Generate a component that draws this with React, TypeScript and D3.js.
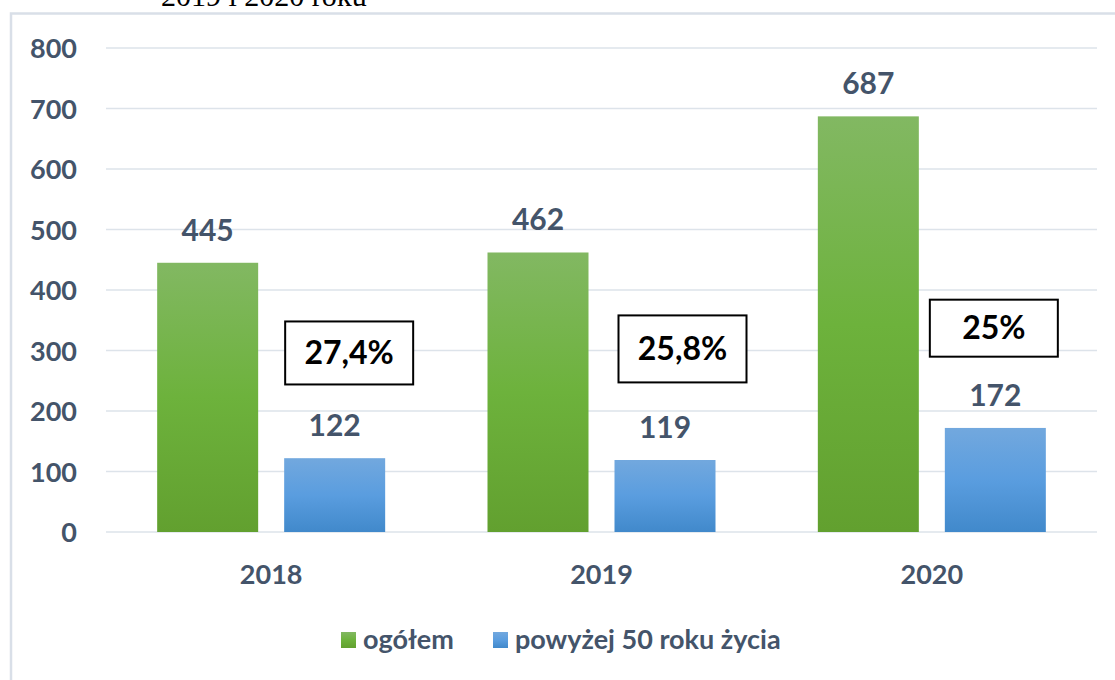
import React from "react";
import * as d3 from "d3";

const categories = ["2018", "2019", "2020"];
const seriesNames = ["ogółem", "powyżej 50 roku życia"];
const totalValues = [445, 462, 687];
const over50Values = [122, 119, 172];
const shareLabels = ["27,4%", "25,8%", "25%"];
const yTicks = [0, 100, 200, 300, 400, 500, 600, 700, 800];

const W = 1115;
const H = 680;
const FONT = "Lato, 'Open Sans', sans-serif";
const TXT = "#44546a";

export default function App() {
  const left = 106, right = 1097, top = 48, bottom = 532;
  const x = d3.scaleBand<string>().domain(categories).range([left, right]).paddingInner(0).paddingOuter(0);
  const y = d3.scaleLinear().domain([0, 800]).range([bottom, top]);
  const barW = 101;
  const gap = 26;
  const offs = [-(gap / 2 + barW), gap / 2];
  const series = [totalValues, over50Values];
  const fills = ["url(#gGreen)", "url(#gBlue)"];
  // box positions relative to category center (layout), y in data units
  const boxes = [
    { dx: 14, top: 348, h: 63 },
    { dx: 17, top: 358, h: 67 },
    { dx: -2, top: 384, h: 57 },
  ];
  return (
    <svg width={W} height={H} style={{ position: "absolute", left: 0, top: 0 }}>
      <defs>
        <linearGradient id="gGreen" x1="0" y1="0" x2="0" y2="1">
          <stop offset="0%" stopColor="#82b862" />
          <stop offset="50%" stopColor="#6db23c" />
          <stop offset="100%" stopColor="#62a02f" />
        </linearGradient>
        <linearGradient id="gBlue" x1="0" y1="0" x2="0" y2="1">
          <stop offset="0%" stopColor="#72a8de" />
          <stop offset="50%" stopColor="#5a9ddf" />
          <stop offset="100%" stopColor="#4189cb" />
        </linearGradient>
      </defs>
      <rect x={0} y={0} width={W} height={H} fill="#fff" />
      <text x={161} y={6} fontFamily="'Liberation Serif', 'Times New Roman', serif" fontSize={30} fill="#000">
        2019 i 2020 roku
      </text>
      <rect x={11} y={13.5} width={W + 20} height={H + 20} fill="none" stroke="#d9dfe8" strokeWidth={2.5} />
      {yTicks.map((t) => (
        <g key={t}>
          <line x1={left} x2={right} y1={y(t)} y2={y(t)} stroke="#dde3ea" strokeWidth={1.5} />
          <text x={77} y={y(t) + 10} textAnchor="end" fontFamily={FONT} fontWeight={700} fontSize={27} fill={TXT}>
            {t}
          </text>
        </g>
      ))}
      {categories.map((c, i) => {
        const cx = (x(c) as number) + x.bandwidth() / 2;
        return (
          <g key={c}>
            {series.map((s, k) => {
              const bx = cx + offs[k];
              return (
                <g key={k}>
                  <rect x={bx} y={y(s[i])} width={barW} height={bottom - y(s[i])} fill={fills[k]} />
                  <text x={bx + barW / 2} y={y(s[i]) - 22} textAnchor="middle" fontFamily={FONT} fontWeight={700} fontSize={30} fill={TXT}>
                    {s[i]}
                  </text>
                </g>
              );
            })}
            <text x={cx} y={584} textAnchor="middle" fontFamily={FONT} fontWeight={700} fontSize={27} fill={TXT}>
              {c}
            </text>
            {(() => {
              const b = boxes[i];
              const bx = cx + b.dx;
              const by = y(b.top);
              return (
                <g>
                  <rect x={bx} y={by} width={128} height={b.h} fill="#fff" stroke="#000" strokeWidth={2} />
                  <text x={bx + 64} y={by + b.h / 2 + 11} textAnchor="middle" fontFamily={FONT} fontWeight={700} fontSize={32} fill="#000">
                    {shareLabels[i]}
                  </text>
                </g>
              );
            })()}
          </g>
        );
      })}
      <g>
        <rect x={341} y={632} width={15} height={16} fill="url(#gGreen)" />
        <text x={363} y={649} fontFamily={FONT} fontWeight={700} fontSize={27} fill={TXT}>
          {seriesNames[0]}
        </text>
        <rect x={493} y={632} width={15} height={16} fill="url(#gBlue)" />
        <text x={515} y={649} fontFamily={FONT} fontWeight={700} fontSize={27} fill={TXT}>
          {seriesNames[1]}
        </text>
      </g>
    </svg>
  );
}
